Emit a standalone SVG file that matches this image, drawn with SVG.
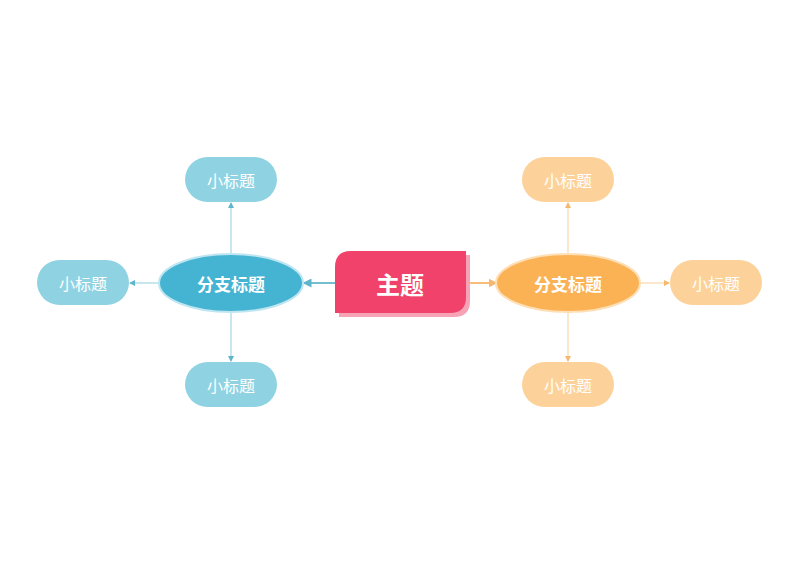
<svg xmlns="http://www.w3.org/2000/svg" width="800" height="566" viewBox="0 0 800 566">
<style>
text{font-family:"Noto Sans CJK SC",sans-serif;text-anchor:middle;dominant-baseline:central}
.bp{fill:#8fd3e3}.op{fill:#fdd29a}
.st{fill:#fff;font-size:16px}
.bl{stroke:#8fd0e0;stroke-width:1;fill:none}
.ol{stroke:#f9cf9a;stroke-width:1;fill:none}
</style>
<defs>
<marker id="ab" viewBox="0 0 6 6" refX="5" refY="3" markerWidth="6" markerHeight="6" orient="auto"><path d="M0,0L6,3L0,6z" fill="#5fb6cc"/></marker>
<marker id="ao" viewBox="0 0 6 6" refX="5" refY="3" markerWidth="6" markerHeight="6" orient="auto"><path d="M0,0L6,3L0,6z" fill="#f5b870"/></marker>
</defs>
<rect width="800" height="566" fill="#fff"/>
<g id="connectors">
<path d="M335,283H304" stroke="#4aa7c0" stroke-width="1.5" marker-end="url(#ab)"/>
<path d="M466,283H496" stroke="#f5a94a" stroke-width="1.5" marker-end="url(#ao)"/>
<path class="bl" d="M231,254V203" marker-end="url(#ab)"/>
<path class="bl" d="M231,312V361" marker-end="url(#ab)"/>
<path class="bl" d="M159,283H130" marker-end="url(#ab)"/>
<path class="ol" d="M568,254V203" marker-end="url(#ao)"/>
<path class="ol" d="M568,312V361" marker-end="url(#ao)"/>
<path class="ol" d="M640,283H669" marker-end="url(#ao)"/>
</g>
<g id="main">
<path d="M359,255H470V301Q470,317 454,317H339V271Q339,255 355,255Z" fill="#f6a3b6"/>
<path d="M355,251H466V297Q466,313 450,313H335V267Q335,251 351,251Z" fill="#f0426a"/>
<text x="400" y="283" fill="#fff" font-size="24" font-weight="bold">主题</text>
</g>
<g id="branchL"><ellipse cx="231" cy="283" rx="72" ry="29" fill="#45b4d3" stroke="#bfe6f0" stroke-width="2"/><text x="231" y="283" fill="#fff" font-size="17" font-weight="bold">分支标题</text></g>
<g id="branchR"><ellipse cx="568" cy="283" rx="72" ry="29" fill="#fbb255" stroke="#fde0b8" stroke-width="2"/><text x="568" y="283" fill="#fff" font-size="17" font-weight="bold">分支标题</text></g>
<g id="lt"><rect class="bp" x="185" y="157" width="92" height="45" rx="22.5"/><text class="st" x="231" y="179.5">小标题</text></g>
<g id="ll"><rect class="bp" x="37" y="260" width="92" height="45" rx="22.5"/><text class="st" x="83" y="282.5">小标题</text></g>
<g id="lb"><rect class="bp" x="185" y="362" width="92" height="45" rx="22.5"/><text class="st" x="231" y="384.5">小标题</text></g>
<g id="rt"><rect class="op" x="522" y="157" width="92" height="45" rx="22.5"/><text class="st" x="568" y="179.5">小标题</text></g>
<g id="rr"><rect class="op" x="670" y="260" width="92" height="45" rx="22.5"/><text class="st" x="716" y="282.5">小标题</text></g>
<g id="rb"><rect class="op" x="522" y="362" width="92" height="45" rx="22.5"/><text class="st" x="568" y="384.5">小标题</text></g>
</svg>
